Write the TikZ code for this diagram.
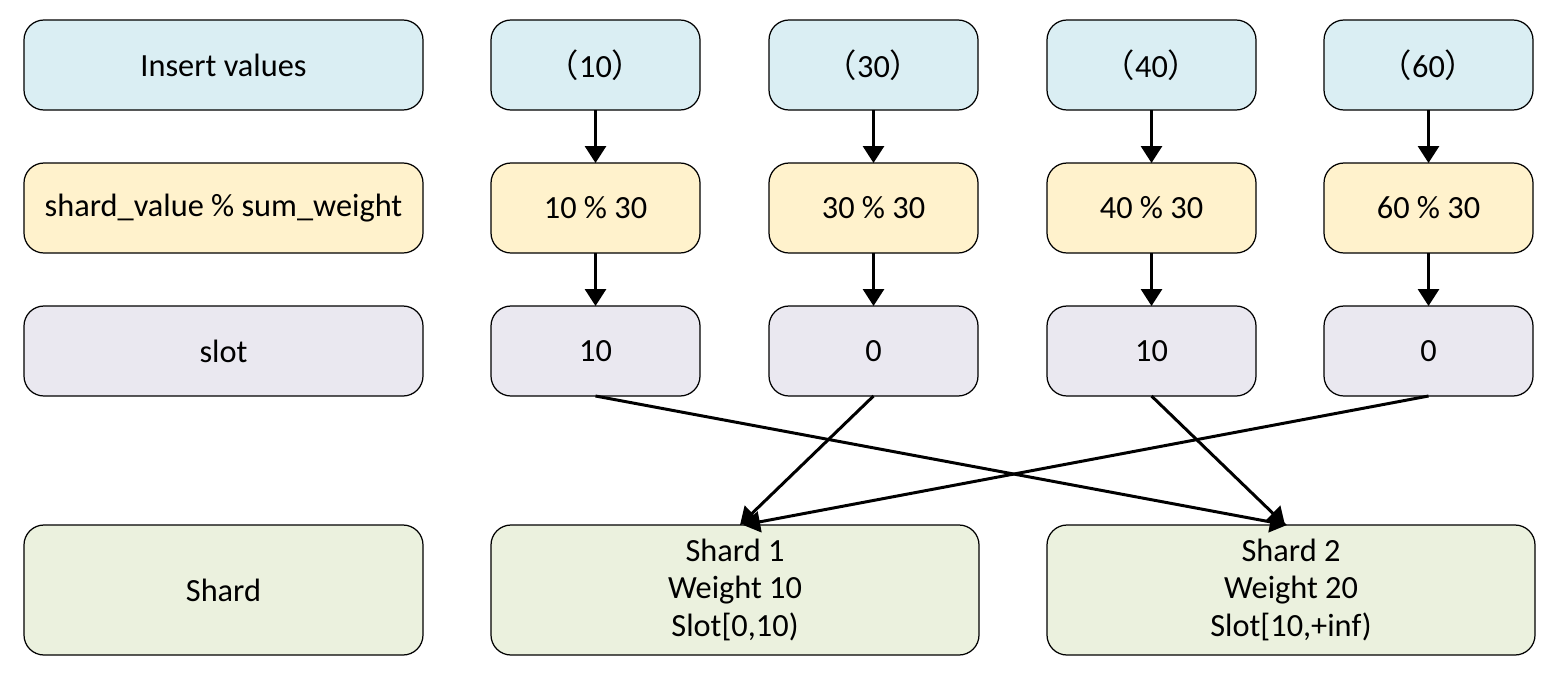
\documentclass[tikz,border=0pt]{standalone}
\usepackage{fontspec}
\setmainfont{Carlito}
\newfontfamily\cjk{Noto Sans CJK SC}
\usetikzlibrary{arrows.meta}
\definecolor{insertblue}{RGB}{218,238,243}
\definecolor{modyellow}{RGB}{255,242,204}
\definecolor{slotgray}{RGB}{234,232,240}
\definecolor{shardgreen}{RGB}{235,241,222}
\newcommand{\parval}[1]{{\cjk （}#1{\cjk ）}}
\begin{document}
\begin{tikzpicture}[line width=0.85pt,>={Triangle[width=0.21cm,length=0.17cm]},
  main node/.style={rectangle,rounded corners=0.2cm,draw=black,line width=0.35pt,inner sep=0pt,outer sep=0pt,align=center,font=\fontsize{9.2}{10.8}\selectfont},
  label node/.style={main node,minimum width=3.99cm,minimum height=0.9cm},
  value node/.style={main node,minimum width=2.09cm,minimum height=0.9cm},
  shard node/.style={main node,fill=shardgreen,minimum width=4.88cm,minimum height=1.3cm}]
\useasboundingbox (0,0) rectangle (15.5,-6.78);
%row labels
\node[label node,fill=insertblue] (l1) at (2.235,-0.65) {Insert values};
\node[label node,fill=modyellow] (l2) at (2.235,-2.08) {shard\_value \% sum\_weight};
\node[label node,fill=slotgray] (l3) at (2.235,-3.51) {slot};
\node[label node,fill=shardgreen,minimum height=1.3cm] (l4) at (2.235,-5.90) {Shard};
%insert values
\node[value node,fill=insertblue] (v1) at (5.955,-0.65) {\parval{10}};
\node[value node,fill=insertblue] (v2) at (8.735,-0.65) {\parval{30}};
\node[value node,fill=insertblue] (v3) at (11.515,-0.65) {\parval{40}};
\node[value node,fill=insertblue] (v4) at (14.285,-0.65) {\parval{60}};
%modulo
\node[value node,fill=modyellow] (m1) at (5.955,-2.08) {10 \% 30};
\node[value node,fill=modyellow] (m2) at (8.735,-2.08) {30 \% 30};
\node[value node,fill=modyellow] (m3) at (11.515,-2.08) {40 \% 30};
\node[value node,fill=modyellow] (m4) at (14.285,-2.08) {60 \% 30};
%slots
\node[value node,fill=slotgray] (s1) at (5.955,-3.51) {10};
\node[value node,fill=slotgray] (s2) at (8.735,-3.51) {0};
\node[value node,fill=slotgray] (s3) at (11.515,-3.51) {10};
\node[value node,fill=slotgray] (s4) at (14.285,-3.51) {0};
%shards
\node[shard node] (sh1) at (7.35,-5.90) {Shard 1\\Weight 10\\Slot[0,10)};
\node[shard node] (sh2) at (12.91,-5.90) {Shard 2\\Weight 20\\Slot[10,+inf)};
\draw[->] (v1) -- (m1);
\draw[->] (v2) -- (m2);
\draw[->] (v3) -- (m3);
\draw[->] (v4) -- (m4);
\draw[->] (m1) -- (s1);
\draw[->] (m2) -- (s2);
\draw[->] (m3) -- (s3);
\draw[->] (m4) -- (s4);
\draw[->] (s1.south) -- ([xshift=-0.04cm]sh2.north);
\draw[->] (s2.south) -- ([xshift=0.05cm]sh1.north);
\draw[->] (s3.south) -- ([xshift=-0.06cm]sh2.north);
\draw[->] (s4.south) -- ([xshift=0.08cm]sh1.north);
\end{tikzpicture}
\end{document}
